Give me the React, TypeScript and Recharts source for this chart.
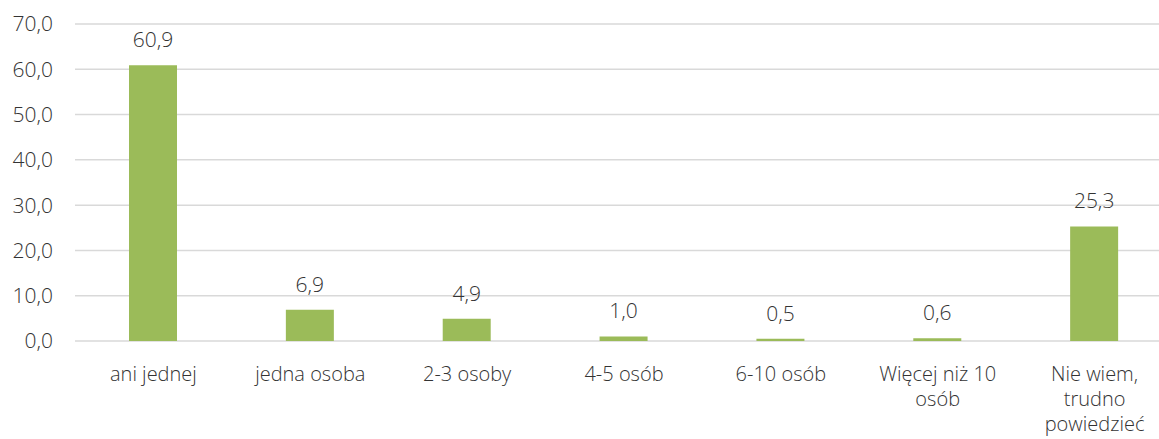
import { Bar, BarChart, CartesianGrid, LabelList, XAxis, YAxis } from 'recharts';

const CATEGORIES = [
    'ani jednej',
    'jedna osoba',
    '2-3 osoby',
    '4-5 osób',
    '6-10 osób',
    'Więcej niż 10 osób',
    'Nie wiem, trudno powiedzieć',
];
const VALUES = [60.9, 6.9, 4.9, 1.0, 0.5, 0.6, 25.3];
const Y_TICKS = [0, 10, 20, 30, 40, 50, 60, 70];

const data = CATEGORIES.map((name, i) => ({ name, value: VALUES[i] }));

const FONT = '"Open Sans", sans-serif';
const TEXT = '#333333';
const SIZE = 21;
const WEIGHT = 300;
const fmt = (v: number) => v.toFixed(1).replace('.', ',');

// break a label into lines of at most `max` characters, on spaces
function wrap(text: string, max = 13) {
    const lines: string[] = [];
    let cur = '';
    for (const w of text.split(' ')) {
        if (cur && (cur + ' ' + w).length > max) {
            lines.push(cur);
            cur = w;
        } else {
            cur = cur ? cur + ' ' + w : w;
        }
    }
    if (cur) lines.push(cur);
    return lines;
}

function CategoryTick({ x, y, payload }: any) {
    const lines = wrap(payload.value);
    return (
        <text x={x} y={y} textAnchor="middle" fill={TEXT} fontSize={20} fontWeight={WEIGHT} fontFamily={FONT}>
            {lines.map((l, i) => (
                <tspan key={i} x={x} dy={i === 0 ? 40 : 25}>
                    {l}
                </tspan>
            ))}
        </text>
    );
}

export default function App() {
    return (
        <div style={{ position: 'absolute', left: 0, top: 0, width: 1159, height: 439, overflow: 'hidden', background: '#fff' }}>
            <BarChart width={1173} height={439} data={data} margin={{ top: 24, right: 0, bottom: 0, left: 0 }}>
                <CartesianGrid vertical={false} stroke="#d9d9d9" strokeWidth={1.5} />
                <XAxis
                    dataKey="name"
                    height={98}
                    axisLine={false}
                    tickLine={false}
                    tickSize={0}
                    tickMargin={0}
                    interval={0}
                    tick={<CategoryTick />}
                />
                <YAxis
                    domain={[0, 70]}
                    ticks={Y_TICKS}
                    width={75}
                    axisLine={false}
                    tickLine={false}
                    tickSize={0}
                    tickMargin={22}
                    tickFormatter={fmt}
                    tick={{ fontSize: SIZE, fill: TEXT, fontWeight: WEIGHT, fontFamily: FONT }}
                />
                <Bar dataKey="value" fill="#9bbb59" barSize={48} isAnimationActive={false}>
                    <LabelList
                        dataKey="value"
                        position="top"
                        offset={18}
                        formatter={(v: any) => fmt(Number(v))}
                        style={{ fontSize: SIZE, fill: TEXT, fontWeight: WEIGHT, fontFamily: FONT }}
                    />
                </Bar>
            </BarChart>
        </div>
    );
}
